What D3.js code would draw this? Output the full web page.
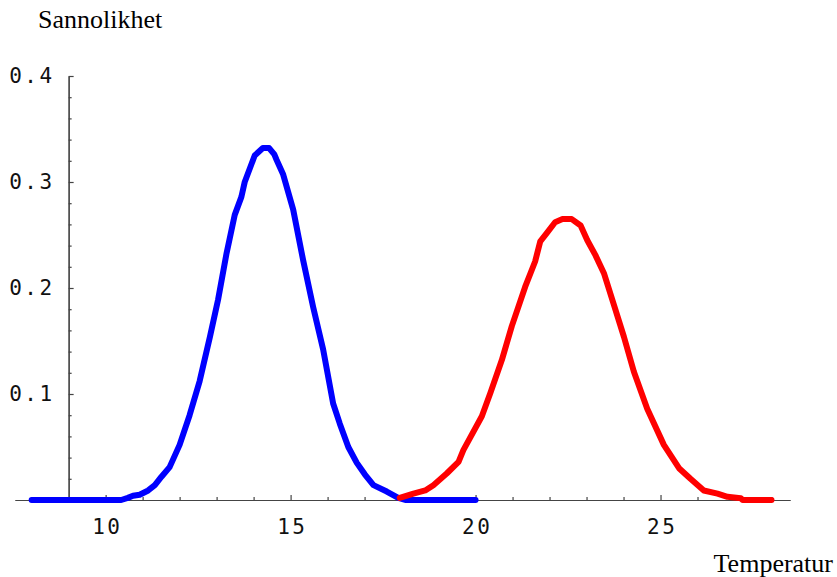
<!DOCTYPE html>
<html>
<head>
<meta charset="utf-8">
<script src="https://cdn.jsdelivr.net/npm/d3@7"></script>
<style>
    body { margin: 0; background: #fff; }
    .tick-label { font-family: 'DejaVu Sans Mono', monospace; font-size: 21px; letter-spacing: 2.5px; fill: #111; }
    .axis-title { font-family: 'Liberation Serif', 'Times New Roman', serif; font-size: 26px; fill: #000; }
</style>
</head>
<body>
<div id="chart"></div>
<script>
// blue curve (temperature, probability)
let blueX = [8.0, 10.42, 10.6, 10.74, 10.92, 11.15, 11.33, 11.51, 11.73, 12.0, 12.27, 12.54, 12.82, 13.04,
    13.27, 13.49, 13.67, 13.76, 14.03, 14.25, 14.42, 14.56, 14.62, 14.8, 15.07, 15.34, 15.61, 15.88,
    16.15, 16.33, 16.56, 16.79, 17.01, 17.24, 17.6, 17.91, 18.1, 20.0];
let blueY = [0, 0, 0.002, 0.004, 0.005, 0.009, 0.014, 0.022, 0.031, 0.052, 0.080, 0.112, 0.154, 0.189,
    0.233, 0.269, 0.286, 0.300, 0.325, 0.332, 0.332, 0.326, 0.321, 0.307, 0.274, 0.226, 0.182, 0.142,
    0.091, 0.072, 0.050, 0.035, 0.024, 0.014, 0.008, 0.002, 0, 0];

// red curve
let redX = [17.95, 18.32, 18.64, 18.86, 19.22, 19.54, 19.67, 20.17, 20.40, 20.71, 20.98, 21.34, 21.61,
    21.75, 21.93, 22.15, 22.35, 22.6, 22.84, 23.02, 23.24, 23.47, 23.74, 24.01, 24.28, 24.64, 25.09,
    25.5, 25.81, 26.17, 26.54, 26.81, 27.17, 27.22, 28.0];
let redY = [0.002, 0.006, 0.009, 0.014, 0.025, 0.036, 0.047, 0.079, 0.101, 0.132, 0.164, 0.201, 0.225,
    0.244, 0.252, 0.262, 0.265, 0.265, 0.259, 0.245, 0.231, 0.214, 0.184, 0.154, 0.121, 0.086, 0.052,
    0.030, 0.020, 0.009, 0.006, 0.003, 0.0016, 0, 0];

let xMajor = [10, 15, 20, 25];
let xMinor = [8, 9, 11, 12, 13, 14, 16, 17, 18, 19, 21, 22, 23, 24, 26, 27, 28];
let yMajor = [0.1, 0.2, 0.3, 0.4];
let yMinor = [0.02, 0.04, 0.06, 0.08, 0.12, 0.14, 0.16, 0.18, 0.22, 0.24, 0.26, 0.28, 0.32, 0.34, 0.36, 0.38];

function ProbChart() {
    this.init();
}

ProbChart.prototype.init = function() {
    let vis = this;

    vis.svgWidth = 837;
    vis.svgHeight = 577;

    vis.svg = d3.select('#chart').append('svg')
        .attr('width', vis.svgWidth)
        .attr('height', vis.svgHeight);

    vis.x = d3.scaleLinear()
        .domain([7.55, 28.5])
        .range([15, 790]);

    vis.y = d3.scaleLinear()
        .domain([0, 0.4])
        .range([500, 76]);
}

ProbChart.prototype.update = function() {
    let vis = this;
    let axisColor = '#444';

    // x axis: ticks point up
    vis.svg.append('g')
        .attr('transform', 'translate(0,' + vis.y(0) + ')')
        .call(d3.axisBottom(vis.x).tickValues(xMajor).tickSize(-5).tickSizeOuter(0).tickPadding(19))
        .selectAll('text').attr('dx', '1.2');
    vis.svg.append('g')
        .attr('transform', 'translate(0,' + vis.y(0) + ')')
        .call(d3.axisBottom(vis.x).tickValues(xMinor).tickSize(-3).tickSizeOuter(0).tickFormat(''));

    // y axis at x = 9, ticks point right
    vis.svg.append('g')
        .attr('transform', 'translate(' + vis.x(9) + ',0)')
        .call(d3.axisLeft(vis.y).tickValues(yMajor).tickSize(-5).tickSizeOuter(0).tickPadding(14)
            .tickFormat(d3.format('.1f')));
    vis.svg.append('g')
        .attr('transform', 'translate(' + vis.x(9) + ',0)')
        .call(d3.axisLeft(vis.y).tickValues(yMinor).tickSize(-3).tickSizeOuter(0).tickFormat(''));

    vis.svg.selectAll('.domain, .tick line')
        .attr('stroke', axisColor)
        .attr('stroke-width', 1.2);
    vis.svg.selectAll('.tick text')
        .attr('class', 'tick-label')
        .attr('font-family', null)
        .attr('font-size', null);

    let line = d3.line()
        .x((d) => vis.x(d[0]))
        .y((d) => vis.y(d[1]));

    let curves = [
        { pts: d3.zip(blueX, blueY), color: '#0000ff' },
        { pts: d3.zip(redX, redY), color: '#ff0000' }
    ];

    vis.svg.selectAll('path.curve').data(curves).enter()
        .append('path')
        .attr('class', 'curve')
        .attr('d', (d) => line(d.pts))
        .attr('fill', 'none')
        .attr('stroke', (d) => d.color)
        .attr('stroke-width', 6)
        .attr('stroke-linecap', 'round')
        .attr('stroke-linejoin', 'round');

    vis.svg.append('text')
        .attr('class', 'axis-title')
        .attr('x', 38)
        .attr('y', 28)
        .text('Sannolikhet');

    vis.svg.append('text')
        .attr('class', 'axis-title')
        .attr('x', 833)
        .attr('y', 572)
        .attr('text-anchor', 'end')
        .text('Temperatur');
}

let chart = new ProbChart();
chart.update();
</script>
</body>
</html>
